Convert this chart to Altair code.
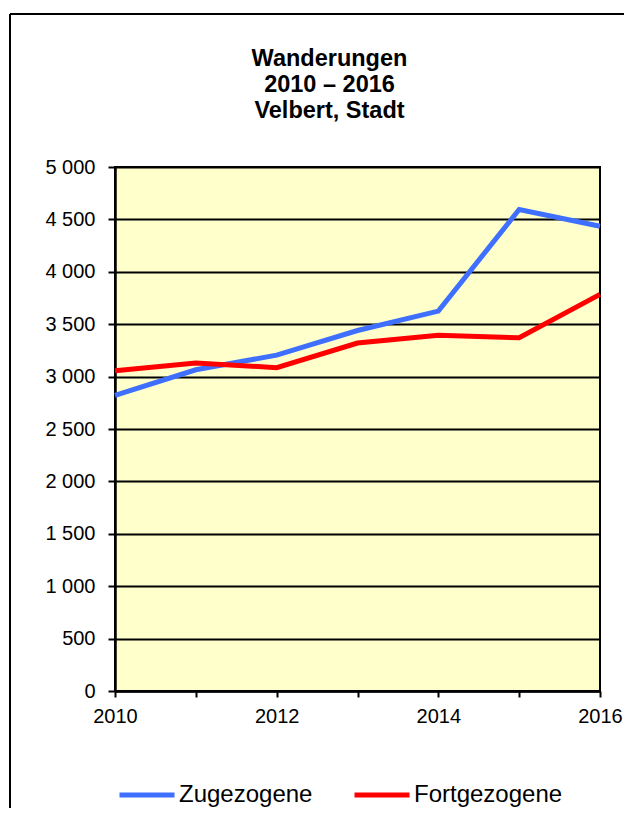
import altair as alt
import pandas as pd

years = [2010, 2011, 2012, 2013, 2014, 2015, 2016]
zugezogene = [2820, 3065, 3205, 3440, 3625, 4595, 4435]
fortgezogene = [3055, 3130, 3085, 3320, 3395, 3370, 3785]
series_names = ["Zugezogene", "Fortgezogene"]
series_colors = ["#3F6FFF", "#FF0000"]
y_ticks = list(range(0, 5001, 500))
title_lines = ["Wanderungen", "2010 – 2016", "Velbert, Stadt"]

df = pd.DataFrame({
    "Jahr": years * 2,
    "Wert": zugezogene + fortgezogene,
    "Reihe": [series_names[0]] * len(years) + [series_names[1]] * len(years),
})

FONT = "Liberation Sans, Arial, sans-serif"
W, H = 485, 524

lines = alt.Chart(df).mark_line(strokeWidth=5).encode(
    x=alt.X("Jahr:Q",
            scale=alt.Scale(domain=[2010, 2016], nice=False, zero=False),
            axis=alt.Axis(values=years, title=None, grid=False,
                          labelExpr="datum.value % 2 == 0 ? format(datum.value, 'd') : ''",
                          labelOverlap=False, labelFlush=False,
                          tickColor="black", tickSize=6, tickWidth=2,
                          domainColor="black", domainWidth=2.5,
                          labelFont=FONT, labelFontSize=20, labelColor="black",
                          labelPadding=9)),
    y=alt.Y("Wert:Q",
            scale=alt.Scale(domain=[0, 5000], nice=False),
            axis=alt.Axis(values=y_ticks, title=None, grid=True,
                          gridColor="black", gridWidth=2, gridOpacity=1,
                          labelExpr="replace(format(datum.value, ','), ',', ' ')",
                          labelOverlap=False, labelFlush=False,
                          tickColor="black", tickSize=7, tickWidth=2,
                          domainColor="black", domainWidth=2.5,
                          labelFont=FONT, labelFontSize=20, labelColor="black",
                          labelPadding=13)),
    color=alt.Color("Reihe:N",
                    scale=alt.Scale(domain=series_names, range=series_colors),
                    legend=alt.Legend(title=None, orient="none", legendX=2, legendY=598,
                                      direction="horizontal", symbolType="stroke",
                                      symbolSize=3025, symbolStrokeWidth=5,
                                      labelFont=FONT, labelFontSize=24, labelColor="black",
                                      columnPadding=31, labelOffset=2, padding=0)),
)

frame_df = pd.DataFrame({"f": [0]})
top_rule = alt.Chart(frame_df).mark_rule(color="black", strokeWidth=2).encode(
    x=alt.value(-105), x2=alt.value(509), y=alt.value(-153))
left_rule = alt.Chart(frame_df).mark_rule(color="black", strokeWidth=2).encode(
    x=alt.value(-105), y=alt.value(-153), y2=alt.value(641))

chart = alt.layer(lines, top_rule, left_rule).properties(
    width=W, height=H,
    title=alt.TitleParams(text=title_lines, fontSize=23.5, fontWeight="bold", font=FONT,
                          color="black", lineHeight=26, anchor="middle", frame="group",
                          dx=-28, offset=30, dy=139),
    autosize=alt.AutoSizeParams(type="none"),
    padding={"left": 107, "top": 159, "right": 24, "bottom": 117},
).configure(background="white").configure_view(fill="#FFFFCC", stroke="black", strokeWidth=2)

chart.save("out.html", embed_options={"renderer": "svg", "actions": False})
